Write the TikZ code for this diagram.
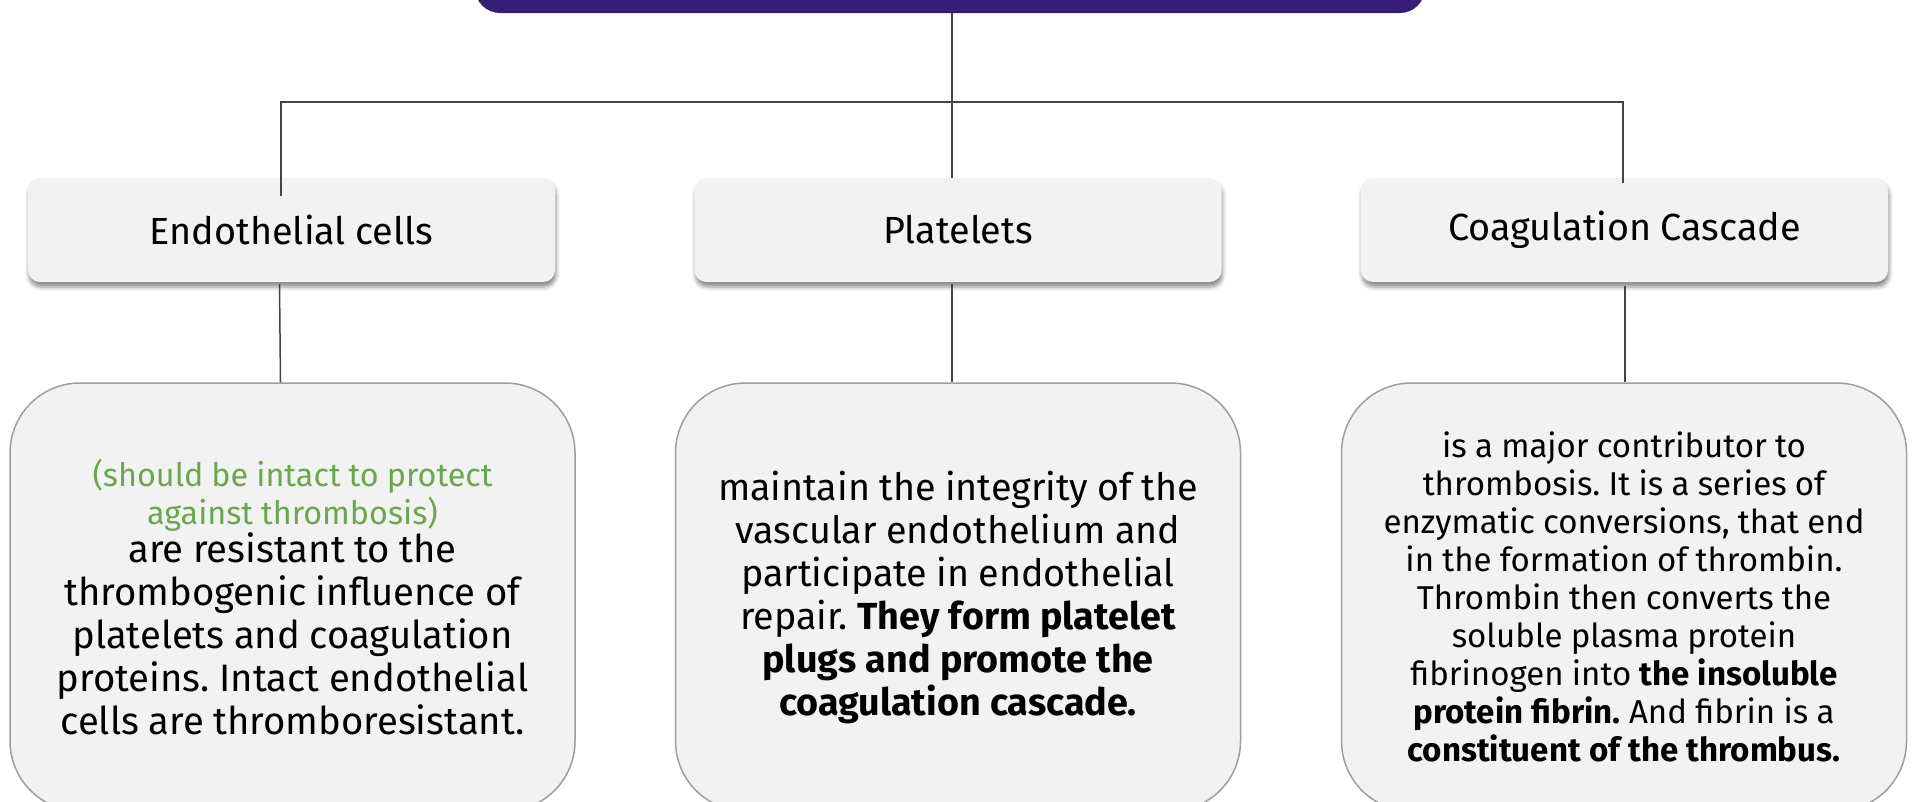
\documentclass[tikz,border=0pt]{standalone}
\usepackage{fontspec}
\setmainfont{Fira Sans}
\usetikzlibrary{shadows.blur,calc}
\definecolor{topfill}{HTML}{361E78}
\definecolor{boxfill}{HTML}{F2F2F2}
\definecolor{boxline}{HTML}{9E9E9E}
\definecolor{connc}{HTML}{444444}
\definecolor{greentxt}{HTML}{6AA84F}
\newcommand\normsp{\frenchspacing\spaceskip=0.25em\xspaceskip=0.25em\relax}
\newlength\mycalw
\newcommand\mycalib[3]{%
  \settowidth\mycalw{\fontsize{10pt}{12pt}\selectfont\normsp #3}%
  \pgfmathsetmacro#1{10*#2/\mycalw}}
\begin{document}
\mycalib{\fsH}{353}{Coagulation Cascade}%
\mycalib{\fsA}{464}{cells are thromboresistant.}%
\mycalib{\fsG}{400}{(should be intact to protect}%
\mycalib{\fsB}{480}{maintain the integrity of the}%
\mycalib{\fsC}{481}{enzymatic conversions, that end}%
\begin{tikzpicture}[x=1pt,y=-1pt,
  headbox/.style={rounded corners=12pt, fill=boxfill, minimum width=527pt,
    minimum height=104pt, inner sep=0pt,
    blur shadow={shadow xshift=1pt, shadow yshift=-5pt, shadow blur radius=4pt, shadow opacity=45}},
  textbox/.style={rounded corners=70pt, fill=boxfill, draw=boxline, line width=1.5pt,
    minimum width=565pt, minimum height=428pt, inner sep=0pt, align=center, text width=550pt},
  conn/.style={draw=connc, line width=1.5pt}]
\useasboundingbox (0,0) rectangle (1921,801);
\clip (0,0) rectangle (1921,801);

% top box
\node[fill=topfill, rounded corners=25pt, minimum width=950pt, minimum height=100pt, inner sep=0pt] (top) at (950,-37) {};

% level 2
\node[headbox, font=\fontsize{\fsH pt}{\fsH pt}\selectfont\normsp] (ec) at (291.5,230) {Endothelial cells};
\node[headbox, font=\fontsize{\fsH pt}{\fsH pt}\selectfont\normsp] (pl) at (958,230) {Platelets};
\node[headbox, font=\fontsize{\fsH pt}{\fsH pt}\selectfont\normsp] (cc) at (1624.5,230) {Coagulation Cascade};

% level 3
\node[textbox, font=\fontsize{\fsA pt}{43pt}\selectfont] (et) at (292.5,597) {%
  {\fontsize{\fsG pt}{38pt}\selectfont\normsp\color{greentxt}(should be intact to protect\\against thrombosis)\par}%
  \vspace{-5pt}%
  {\fontsize{\fsA pt}{43pt}\selectfont\normsp are resistant to the\\thrombogenic influence of\\platelets and coagulation\\proteins. Intact endothelial\\cells are thromboresistant.\par}};
\node[textbox, font=\fontsize{\fsB pt}{43pt}\selectfont] (pt) at (958,597) {%
  {\fontsize{\fsB pt}{43pt}\selectfont\normsp maintain the integrity of the\\vascular endothelium and\\participate in endothelial\\repair. \textbf{They form platelet\\plugs and promote the\\coagulation cascade.}\par}};
\node[textbox, font=\fontsize{\fsC pt}{38pt}\selectfont] (ct) at (1624,597) {%
  {\fontsize{\fsC pt}{38pt}\selectfont\normsp is a major contributor to\\thrombosis. It is a series of\\enzymatic conversions, that end\\in the formation of thrombin.\\Thrombin then converts the\\soluble plasma protein\\fibrinogen into \textbf{the insoluble\\protein fibrin.} And fibrin is a\\\textbf{constituent of the thrombus.}\par}};

% connectors
\coordinate (hub) at (952,102);
\coordinate (L) at (281,102);
\coordinate (R) at (1623,102);
\draw[conn] (hub |- top.south) -- (hub |- pl.north);
\draw[conn] ($(L |- ec.north)+(0,18)$) -- (L) -- (R) -- ($(R |- cc.north)+(0,5)$);
\draw[conn] ($(ec.south)+(-12,2)$) -- ($(et.north)+(-12,0)$);
\draw[conn] ($(pl.south)+(-6,2)$) -- ($(pt.north)+(-6,0)$);
\draw[conn] ($(cc.south)+(0.5,4)$) -- ($(ct.north)+(1,0)$);
\end{tikzpicture}
\end{document}
